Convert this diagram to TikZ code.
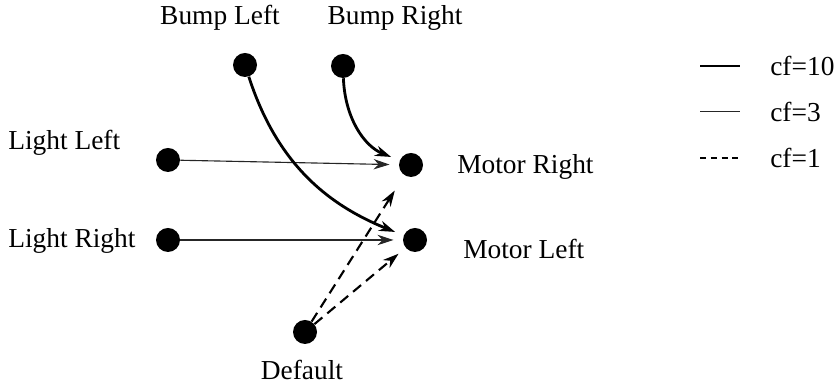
\documentclass[tikz,border=0pt]{standalone}
\usepackage{fontspec}
\setmainfont{Liberation Serif}
\usetikzlibrary{arrows.meta, positioning}

\tikzset{
  dot/.style={circle, fill=black, inner sep=0pt, minimum size=0.6cm},
  lbl/.style={font=\fontsize{19.5}{23}\selectfont, inner sep=0pt},
  tip/.style={-{Stealth[length=0.4cm, width=0.26cm]}, shorten >=0.23cm},
  cfstrong/.style={line width=2pt},
  cfmid/.style={line width=0.8pt, black!85},
  cfweak/.style={line width=1.5pt, dash pattern=on 0.26cm off 0.16cm},
  cfkey/.style={line width=0.9pt, dash pattern=on 0.15cm off 0.12cm},
}

\begin{document}
\begin{tikzpicture}
\useasboundingbox (0,0) rectangle (20.9,9.625);
% Sensors, motors and the default unit
\node[dot] (bumpl) at (6.125,8.0) {};
\node[dot] (bumpr) at (8.575,7.975) {};
\node[dot] (lightl) at (4.2,5.625) {};
\node[dot] (lightr) at (4.2,3.625) {};
\node[dot] (motorr) at (10.275,5.5) {};
\node[dot] (motorl) at (10.375,3.625) {};
\node[dot] (deflt) at (7.625,1.325) {};
% Labels
\node[lbl] (bumpltxt) at (5.5,9.175) {Bump Left};
\node[lbl] (bumprtxt) at (9.875,9.175) {Bump Right};
\node[lbl, anchor=west] (lightltxt) at (0.2,6.06) {Light Left};
\node[lbl, anchor=west] (lightrtxt) at (0.2,3.6) {Light Right};
\node[lbl, anchor=west] (motorrtxt) at (11.425,5.46) {Motor Right};
\node[lbl, anchor=west] (motorltxt) at (11.575,3.4) {Motor Left};
\node[lbl] (deflttxt) at (7.55,0.375) {Default};
% Connections
\draw[cfmid, tip] (lightl) -- (motorr);
\draw[cfmid, tip] (lightr) -- (motorl);
\draw[cfstrong, tip] (bumpl) to[out=-72, in=158] (motorl);
\draw[cfstrong, tip] (bumpr) to[out=-88, in=158] (motorr);
\draw[cfweak, tip, shorten >=0.45cm] (deflt) -- (motorr);
\draw[cfweak, tip] (deflt) -- (motorl);
% Legend
\foreach \i/\y/\sty/\txt in {1/7.975/cfstrong/cf=10, 2/6.83/cfmid/cf=3, 3/5.675/cfkey/cf=1} {
  \node[lbl, anchor=west] (key\i) at (19.25,\y) {\txt};
  \draw[\sty] (17.5,\y) -- (18.5,\y);
}
\end{tikzpicture}
\end{document}
